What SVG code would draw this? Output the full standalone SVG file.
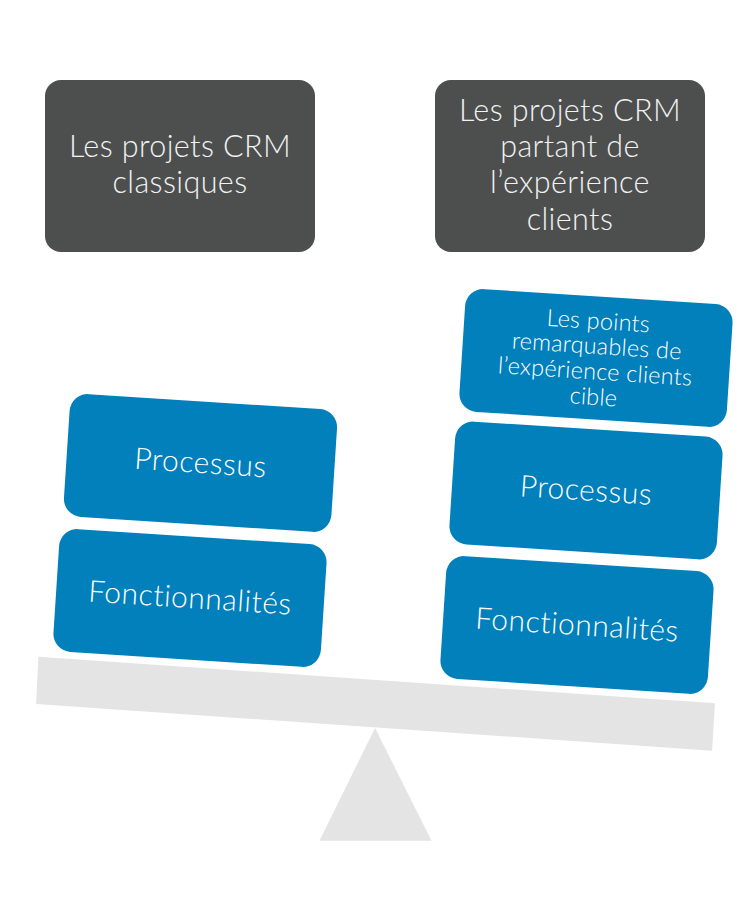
<svg xmlns="http://www.w3.org/2000/svg" width="750" height="921" viewBox="0 0 750 921">
<style>
.dark{fill:#4d4f4f}
.blue{fill:#0180bb}
.scale{fill:#e4e4e4}
.t{font-family:Lato,"Liberation Sans",sans-serif;font-weight:300;text-anchor:middle}
.th{fill:#f2f2f2;font-size:30.5px;letter-spacing:0.4px}
.tb{fill:#ffffff;font-size:30px;letter-spacing:0.5px}
.ts{fill:#ffffff;font-size:23.5px;letter-spacing:0.2px}
</style>
<rect width="750" height="921" fill="#ffffff"/>
<g id="scale">
<polygon class="scale" points="38.4,656.7 715,703.3 712,750.7 36.1,704"/>
<polygon class="scale" points="375,728 431.5,840.7 319.5,840.7"/>
</g>
<g id="header-classic">
<rect class="dark" x="45" y="80" width="270" height="172" rx="16"/>
<text class="t th" x="180" y="157">Les projets CRM</text>
<text class="t th" x="180" y="193">classiques</text>
</g>
<g id="header-experience">
<rect class="dark" x="435" y="80" width="270" height="172" rx="16"/>
<text class="t th" x="570" y="121">Les projets CRM</text>
<text class="t th" x="570" y="157">partant de</text>
<text class="t th" x="570" y="193">l’expérience</text>
<text class="t th" x="570" y="230">clients</text>
</g>
<g id="left-processus" transform="translate(200.5,463) rotate(3.7)">
<rect class="blue" x="-134" y="-61.5" width="268" height="123" rx="18"/>
<text class="t tb" x="0" y="10">Processus</text>
</g>
<g id="left-fonctionnalites" transform="translate(190,598) rotate(3.7)">
<rect class="blue" x="-134" y="-61.5" width="268" height="123" rx="18"/>
<text class="t tb" x="0" y="10">Fonctionnalités</text>
</g>
<g id="right-points" transform="translate(596,358) rotate(3.7)">
<rect class="blue" x="-134" y="-61.5" width="268" height="123" rx="18"/>
<text class="t ts" x="0" y="-29">Les points</text>
<text class="t ts" x="0" y="-4">remarquables de</text>
<text class="t ts" x="0" y="21.5">l’expérience clients</text>
<text class="t ts" x="0" y="47">cible</text>
</g>
<g id="right-processus" transform="translate(586,490.5) rotate(3.7)">
<rect class="blue" x="-134" y="-61.5" width="268" height="123" rx="18"/>
<text class="t tb" x="0" y="10">Processus</text>
</g>
<g id="right-fonctionnalites" transform="translate(577,625) rotate(3.7)">
<rect class="blue" x="-134" y="-61.5" width="268" height="123" rx="18"/>
<text class="t tb" x="0" y="10">Fonctionnalités</text>
</g>
<g id="connectors"></g>
</svg>
